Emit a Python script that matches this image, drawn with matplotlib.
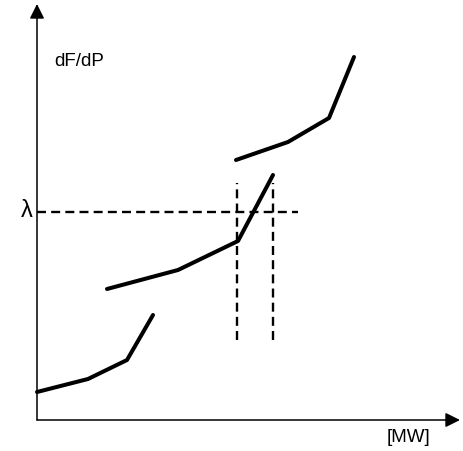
import matplotlib.pyplot as plt

plt.rcParams['font.family'] = ['Liberation Sans', 'DejaVu Sans']

# incremental cost curve segments (P, dF/dP), arbitrary units
seg1_p = [0, 51, 90, 116]
seg1_f = [28, 41, 60, 105]
seg2_p = [70, 141, 201, 236]
seg2_f = [131, 150, 179, 245]
seg3_p = [199, 251, 292, 317]
seg3_f = [260, 278, 302, 363]

lam = 208
lam_end = 261
p_marks = [200, 236]
mark_f = [80, 237]

fig = plt.figure(figsize=(4.63, 4.51), dpi=100)
ax = fig.add_axes([0, 0, 1, 1])
ax.set_xlim(-37, 426)
ax.set_ylim(-31, 420)
ax.axis("off")

for p, f in [(seg1_p, seg1_f), (seg2_p, seg2_f), (seg3_p, seg3_f)]:
    ax.plot(p, f, color="black", lw=2.9, solid_capstyle="round")

# lambda level and the two crossing points
ax.plot([0, lam_end], [lam, lam], color="black", lw=1.7, dashes=(3.8, 2.2))
for p in p_marks:
    ax.plot([p, p], mark_f, color="black", lw=1.7, dashes=(3.8, 2.2))

# axes with arrows
arrow = dict(arrowstyle="-|>", color="black", lw=1.1, mutation_scale=22,
             shrinkA=0, shrinkB=0)
ax.annotate("", xy=(0, 416), xytext=(0, 0), arrowprops=arrow)
ax.annotate("", xy=(423, 0), xytext=(0, 0), arrowprops=arrow)

ax.text(17, 359, "dF/dP", fontsize=13.5, va="center", ha="left")
ax.text(-4, lam + 1, "λ", fontsize=17, va="center", ha="right")
ax.text(371, -18, "[MW]", fontsize=13.5, va="center", ha="center")

fig.savefig("out.png", dpi=100)
